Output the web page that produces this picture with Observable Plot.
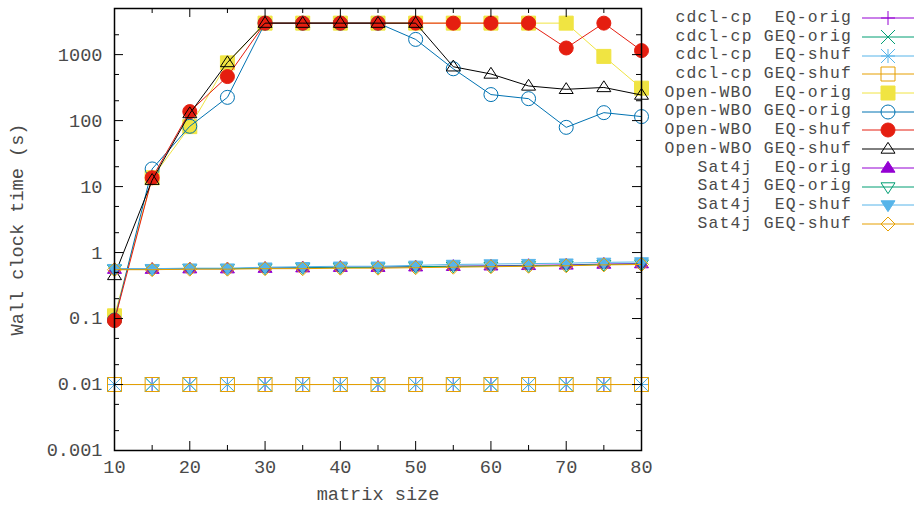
<!DOCTYPE html>
<html><head><meta charset="utf-8">
<script src="https://cdn.jsdelivr.net/npm/d3@7"></script>
<script src="https://cdn.jsdelivr.net/npm/@observablehq/plot@0.6"></script>
<style>
html,body{margin:0;padding:0;background:#fff;}
#wrap{position:relative;width:916px;height:505px;overflow:hidden;font-family:"Liberation Mono",monospace;}
#chart{position:absolute;left:0;top:0;}
#legend{position:absolute;left:640px;top:9px;}
.row{display:flex;align-items:center;height:18.7px;}
.row span{display:block;width:212px;height:18.7px;text-align:right;white-space:pre;font-size:16.4px;letter-spacing:1.2px;line-height:18.7px;color:#4a4a4a;}
.row svg{display:block;margin-left:10px;}
</style></head><body><div id="wrap"><div id="chart"></div><div id="legend"></div></div>
<script>
// ---- data ----
const matrixSizes = [10,15,20,25,30,35,40,45,50,55,60,65,70,75,80];
const cdclEqOrig  = [0.01,0.01,0.01,0.01,0.01,0.01,0.01,0.01,0.01,0.01,0.01,0.01,0.01,0.01,0.01];
const cdclGeqOrig = [0.01,0.01,0.01,0.01,0.01,0.01,0.01,0.01,0.01,0.01,0.01,0.01,0.01,0.01,0.01];
const cdclEqShuf  = [0.01,0.01,0.01,0.01,0.01,0.01,0.01,0.01,0.01,0.01,0.01,0.01,0.01,0.01,0.01];
const cdclGeqShuf = [0.01,0.01,0.01,0.01,0.01,0.01,0.01,0.01,0.01,0.01,0.01,0.01,0.01,0.01,0.01];
const owboEqOrig  = [0.11,13.6,81,750,3000,3000,3000,3000,3000,3000,3000,3000,3000,940,310];
const owboGeqOrig = [0.095,18.5,82,225,3000,3000,3000,3000,1700,610,248,215,79,132,115];
const owboEqShuf  = [0.093,13.6,137,465,3000,3000,3000,3000,3000,3000,3000,3000,1260,3000,1150];
const owboGeqShuf = [0.45,12.5,128,760,3000,3000,3000,3000,3000,655,509,335,298,318,244];
const sat4jEqOrig  = [0.56,0.56,0.57,0.57,0.58,0.59,0.6,0.6,0.61,0.62,0.63,0.64,0.65,0.67,0.68];
const sat4jGeqOrig = [0.56,0.56,0.57,0.57,0.58,0.59,0.59,0.6,0.61,0.62,0.62,0.63,0.64,0.66,0.67];
const sat4jEqShuf  = [0.57,0.57,0.58,0.58,0.6,0.61,0.62,0.62,0.64,0.66,0.67,0.68,0.69,0.71,0.72];
const sat4jGeqShuf = [0.55,0.55,0.56,0.56,0.57,0.57,0.58,0.58,0.59,0.6,0.61,0.62,0.63,0.65,0.66];
const seriesNames = ["cdcl-cp  EQ-orig","cdcl-cp GEQ-orig","cdcl-cp  EQ-shuf","cdcl-cp GEQ-shuf",
  "Open-WBO  EQ-orig","Open-WBO GEQ-orig","Open-WBO  EQ-shuf","Open-WBO GEQ-shuf",
  "   Sat4j  EQ-orig","   Sat4j GEQ-orig","   Sat4j  EQ-shuf","   Sat4j GEQ-shuf"];
const xTicks = [10,20,30,40,50,60,70,80];
const xMinorTicks = [15,25,35,45,55,65,75];
const yTicks = [0.001,0.01,0.1,1,10,100,1000];
const yTickLabels = ["0.001","0.01","0.1","1","10","100","1000"];
const yMinorTicks = [0.002,0.005,0.02,0.05,0.2,0.5,2,5,20,50,200,500,2000];

// ---- symbols (gnuplot-like point types) ----
function sym(f){return {draw(c,size){const r=Math.sqrt(size/Math.PI); f(c,r);}};}
const symPlus = sym((c,r)=>{c.moveTo(-r,0);c.lineTo(r,0);c.moveTo(0,-r);c.lineTo(0,r);});
const symCross = sym((c,r)=>{c.moveTo(-r,-r);c.lineTo(r,r);c.moveTo(-r,r);c.lineTo(r,-r);});
const symStar = sym((c,r)=>{c.moveTo(-r,0);c.lineTo(r,0);c.moveTo(0,-r);c.lineTo(0,r);c.moveTo(-r,-r);c.lineTo(r,r);c.moveTo(-r,r);c.lineTo(r,-r);});
const symSquare = sym((c,r)=>{c.moveTo(-r,-r);c.lineTo(r,-r);c.lineTo(r,r);c.lineTo(-r,r);c.closePath();});
const symCircle = sym((c,r)=>{c.moveTo(r,0);c.arc(0,0,r,0,2*Math.PI);});
const symTri = sym((c,r)=>{c.moveTo(0,-0.95*r);c.lineTo(r,0.6*r);c.lineTo(-r,0.6*r);c.closePath();});
const symTriDown = sym((c,r)=>{c.moveTo(0,0.95*r);c.lineTo(r,-0.6*r);c.lineTo(-r,-0.6*r);c.closePath();});
const symDiamond = sym((c,r)=>{c.moveTo(0,-r);c.lineTo(r,0);c.lineTo(0,r);c.lineTo(-r,0);c.closePath();});

const seriesValues = [cdclEqOrig,cdclGeqOrig,cdclEqShuf,cdclGeqShuf,owboEqOrig,owboGeqOrig,owboEqShuf,owboGeqShuf,sat4jEqOrig,sat4jGeqOrig,sat4jEqShuf,sat4jGeqShuf];
const styles = [
  {color:"#9400d3",symbol:symPlus,filled:false},
  {color:"#009e73",symbol:symCross,filled:false},
  {color:"#56b4e9",symbol:symStar,filled:false},
  {color:"#e69f00",symbol:symSquare,filled:false},
  {color:"#f0e442",symbol:symSquare,filled:true},
  {color:"#0072b2",symbol:symCircle,filled:false},
  {color:"#e51e10",symbol:symCircle,filled:true},
  {color:"#000000",symbol:symTri,filled:false},
  {color:"#9400d3",symbol:symTri,filled:true},
  {color:"#009e73",symbol:symTriDown,filled:false},
  {color:"#56b4e9",symbol:symTriDown,filled:true},
  {color:"#e69f00",symbol:symDiamond,filled:false}
];
const R = 7;

const W = 916, H = 505, mL = 114, mR = 275, mT = 8, mB = 55;
const innerW = W - mL - mR, innerH = H - mT - mB;
const majorLen = 9, minorLen = 5;

const seriesMarks = [];
seriesValues.forEach((vals, k) => {
  const rows = matrixSizes.map((x, i) => ({x, y: vals[i]}));
  const s = styles[k];
  seriesMarks.push(Plot.line(rows, {x: "x", y: "y", stroke: s.color, strokeWidth: 1}));
  seriesMarks.push(Plot.dot(rows, {x: "x", y: "y", symbol: s.symbol, r: R, stroke: s.color, strokeWidth: 1, fill: s.filled ? s.color : "none"}));
});

const chart = Plot.plot({
  width: W, height: H,
  marginLeft: mL, marginRight: mR, marginTop: mT, marginBottom: mB,
  style: {fontFamily: "'Liberation Mono', monospace", fontSize: "18.6px", color: "#4a4a4a", background: "transparent"},
  x: {domain: [10, 80]},
  y: {type: "log", domain: [0.001, 5000]},
  marks: [
    ...seriesMarks,
    Plot.axisY({ticks: yTicks, tickFormat: d => yTickLabels[yTicks.indexOf(d)], tickSize: 0, tickPadding: 12,
      label: "Wall clock time (s)", labelAnchor: "center", labelArrow: "none", labelOffset: 105}),
    Plot.axisX({ticks: xTicks, tickSize: 0, tickPadding: 9,
      label: "matrix size", labelAnchor: "center", labelArrow: "none", labelOffset: 49}),
    Plot.tickY(yTicks, {y: d => d, insetRight: innerW - majorLen, stroke: "black"}),
    Plot.tickY(yTicks, {y: d => d, insetLeft: innerW - majorLen, stroke: "black"}),
    Plot.tickY(yMinorTicks, {y: d => d, insetRight: innerW - minorLen, stroke: "black"}),
    Plot.tickY(yMinorTicks, {y: d => d, insetLeft: innerW - minorLen, stroke: "black"}),
    Plot.tickX(xTicks, {x: d => d, insetTop: innerH - majorLen, stroke: "black"}),
    Plot.tickX(xTicks, {x: d => d, insetBottom: innerH - majorLen, stroke: "black"}),
    Plot.tickX(xMinorTicks, {x: d => d, insetTop: innerH - minorLen, stroke: "black"}),
    Plot.tickX(xMinorTicks, {x: d => d, insetBottom: innerH - minorLen, stroke: "black"}),
    Plot.frame({stroke: "black", strokeWidth: 1.5})
  ]
});
document.getElementById("chart").appendChild(chart);

// ---- legend ----
const legend = d3.select("#legend");
seriesNames.forEach((name, k) => {
  const s = styles[k];
  const row = legend.append("div").attr("class", "row");
  row.append("span").text(name);
  const svg = row.append("svg").attr("width", 54).attr("height", 18);
  svg.append("line").attr("x1", 0).attr("x2", 52).attr("y1", 9).attr("y2", 9).attr("stroke", s.color).attr("stroke-width", 1);
  svg.append("path").attr("transform", "translate(26,9)")
    .attr("d", d3.symbol().type(s.symbol).size(Math.PI * R * R)())
    .attr("stroke", s.color).attr("stroke-width", 1).attr("fill", s.filled ? s.color : "none");
});
</script></body></html>
